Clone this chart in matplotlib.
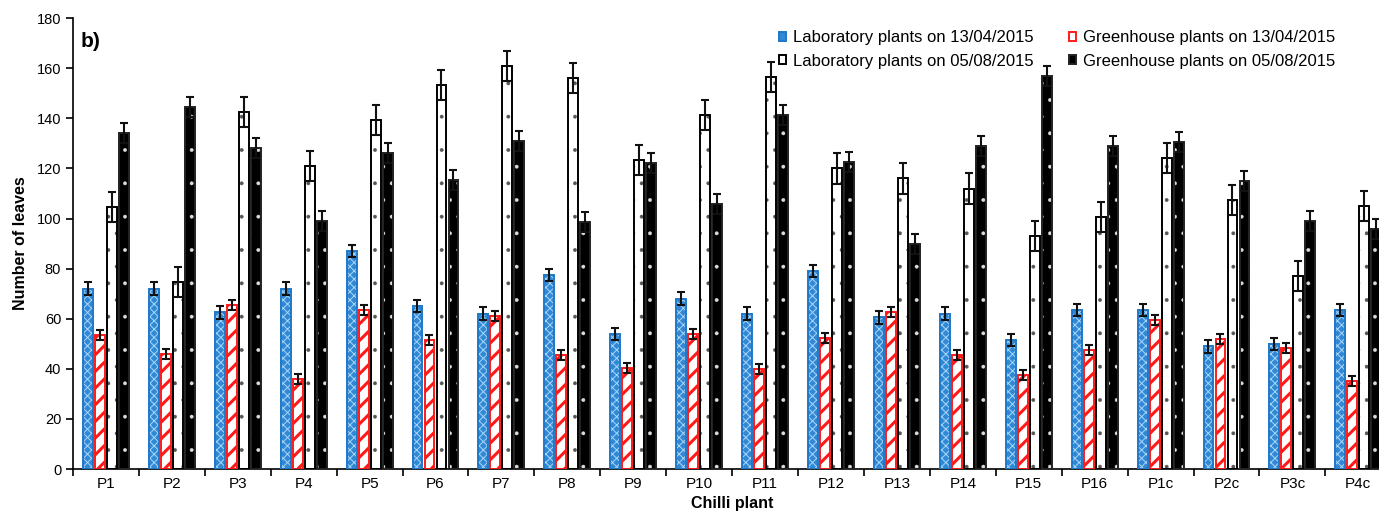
import numpy as np
import matplotlib
matplotlib.use("Agg")
import matplotlib.pyplot as plt

plt.rcParams['font.family'] = ['Liberation Sans', 'DejaVu Sans']

plants = ["P1", "P2", "P3", "P4", "P5", "P6", "P7", "P8", "P9", "P10",
          "P11", "P12", "P13", "P14", "P15", "P16", "P1c", "P2c", "P3c", "P4c"]

lab_apr = [72, 72, 62.5, 72, 87, 65, 62, 77.5, 54, 68,
           62, 79, 60.5, 62, 51.5, 63.5, 63.5, 49, 50, 63.5]
green_apr = [53.5, 46, 65.5, 36, 63.5, 51.5, 61, 45.5, 40.5, 54,
             40, 52.5, 62.5, 45.5, 37.5, 47.5, 59.5, 52, 48.5, 35]
lab_aug = [104.5, 74.5, 142.5, 121, 139.5, 153.5, 161, 156, 123.5, 141.5,
           156.5, 120, 116, 112, 93, 100.5, 124, 107.5, 77, 105]
green_aug = [134, 144.5, 128, 99, 126, 115.5, 131, 98.5, 122, 106,
             141.5, 122.5, 90, 129, 157, 129, 130.5, 115, 99, 96]

lab_apr_err = [2.5, 2.5, 2.5, 2.5, 2.5, 2.5, 2.5, 2.5, 2.5, 2.5,
               2.5, 2.5, 2.5, 2.5, 2.5, 2.5, 2.5, 2.5, 2.5, 2.5]
green_apr_err = [2, 2, 2, 2, 2, 2, 2, 2, 2, 2,
                 2, 2, 2, 2, 2, 2, 2, 2, 2, 2]
lab_aug_err = [6, 6, 6, 6, 6, 6, 6, 6, 6, 6,
               6, 6, 6, 6, 6, 6, 6, 6, 6, 6]
green_aug_err = [4, 4, 4, 4, 4, 4, 4, 4, 4, 4,
                 4, 4, 4, 4, 4, 4, 4, 4, 4, 4]

labels = ["Laboratory plants on 13/04/2015", "Greenhouse plants on 13/04/2015",
          "Laboratory plants on 05/08/2015", "Greenhouse plants on 05/08/2015"]

fig = plt.figure(figsize=(13.79, 5.17), dpi=100)
ax = fig.add_axes([0.0529, 0.0928, 0.956, 0.872])

x = np.arange(len(plants))
pitch = 0.182
width = 0.15
offsets = [-1.5 * pitch, -0.5 * pitch, 0.5 * pitch, 1.5 * pitch]

# (face, hatch colour, hatch, edge, hatch linewidth)
styles = [
    ("#3189d6", "#a9d5f7", "xxxx", "#1f78c8", 0.7),
    ("white", "#ff1a1a", "//", "#ff1a1a", 2.2),
    ("white", "#555555", ".", "black", 0.3),
    ("black", "#dddddd", ".", "#222222", 0.3),
]
series = [lab_apr, green_apr, lab_aug, green_aug]
errs = [lab_apr_err, green_apr_err, lab_aug_err, green_aug_err]

handles = []
for vals, err, off, (fc, hc, hatch, ec, hlw), lab in zip(series, errs, offsets, styles, labels):
    plt.rcParams['hatch.linewidth'] = hlw
    # hatch layer
    bars = ax.bar(x + off, vals, width, color=fc, edgecolor=hc, hatch=hatch, linewidth=0, zorder=2)
    for b in bars:
        if hasattr(b, 'set_hatch_linewidth'):
            b.set_hatch_linewidth(hlw)
    # outline
    h = ax.bar(x + off, vals, width, color='none', edgecolor=ec, linewidth=1.4, zorder=3, label=lab)
    ax.errorbar(x + off, vals, yerr=err, fmt='none', ecolor='#111111', elinewidth=1.5,
                capsize=3, capthick=1.5, zorder=4)
    handles.append(h)

ax.set_xlim(-0.5, len(plants) - 0.5)
ax.set_ylim(0, 180)
ax.set_yticks(np.arange(0, 181, 20))
ax.set_xticks(x)
ax.set_xticklabels(plants, fontsize=11)
ax.set_xticks(np.arange(-0.5, len(plants), 1), minor=True)
ax.tick_params(axis='x', which='major', length=0, pad=6)
ax.tick_params(axis='x', which='minor', length=5, width=1.2, direction='out')
ax.tick_params(axis='y', length=5, width=1.2, direction='out', labelsize=10.5)
for s in ['top', 'right']:
    ax.spines[s].set_visible(False)
ax.spines['left'].set_linewidth(1.2)
ax.spines['bottom'].set_linewidth(1.2)

ax.set_ylabel("Number of leaves", fontsize=11.5, fontweight='bold', labelpad=6)
ax.set_xlabel("Chilli plant", fontsize=11.5, fontweight='bold', labelpad=3)
ax.text(0.006, 0.97, "b)", transform=ax.transAxes, fontsize=15, fontweight='bold', va='top')

# legend fills column-wise, so order for rows: lab apr / green apr, lab aug / green aug
order = [0, 2, 1, 3]
leg = ax.legend(handles=[handles[i] for i in order], labels=[labels[i] for i in order],
                ncol=2, loc='upper left',
                bbox_to_anchor=(0.5305, 0.988), frameon=False, fontsize=12,
                handlelength=0.45, handleheight=0.45, handletextpad=0.4,
                columnspacing=2.1, labelspacing=0.5, borderaxespad=0)
for patch, i in zip(leg.get_patches(), order):
    fc, hc, hatch, ec, hlw = styles[i]
    patch.set_facecolor(fc)
    patch.set_edgecolor(ec)

fig.savefig("out.png", dpi=100)
